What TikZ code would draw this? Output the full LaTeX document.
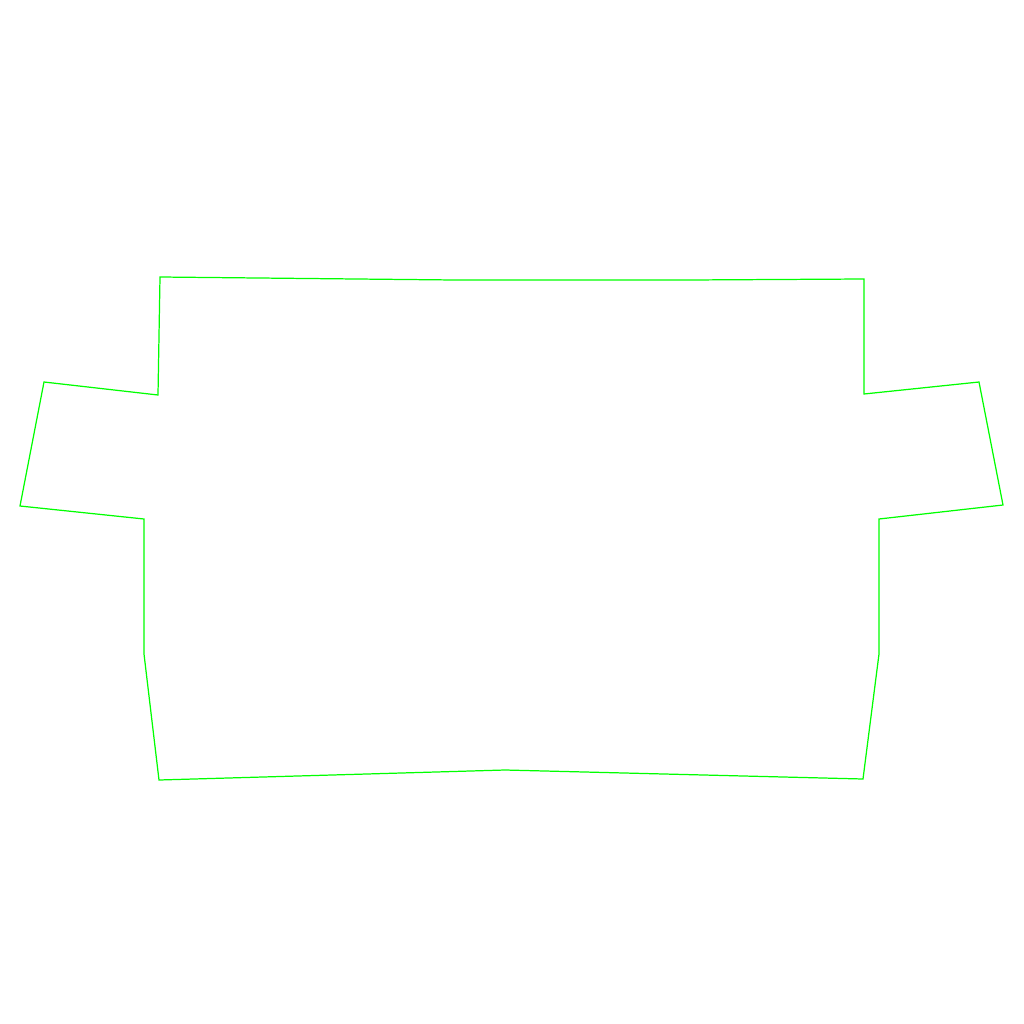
\documentclass[tikz,border=0pt]{standalone}
\usepackage{tikz}
\definecolor{outlinegreen}{RGB}{0,255,0}

\begin{document}
\begin{tikzpicture}[
  x=0.01cm, y=-0.01cm,
  outline/.style={draw=outlinegreen, line width=0.35pt, line join=miter}
]
  \useasboundingbox (0,0) rectangle (1024,1024);
  % corners of the outline, in pixels of the reference
  \coordinate (topleft) at (160,277);
  \coordinate (topmidl) at (455,280);
  \coordinate (topmidr) at (688,280);
  \coordinate (topright) at (864,279);
  \coordinate (rearin1) at (864,394);
  \coordinate (rearout1) at (979,382);
  \coordinate (rearout2) at (1003,505);
  \coordinate (rearin2) at (879,519);
  \coordinate (rkink) at (879,654);
  \coordinate (botright) at (863,779);
  \coordinate (botmid) at (505,770);
  \coordinate (botleft) at (159,780);
  \coordinate (lkink) at (144,654);
  \coordinate (learin2) at (144,519);
  \coordinate (learout2) at (20,506);
  \coordinate (learout1) at (44,382);
  \coordinate (learin1) at (158,395);
  \draw[outline] (topleft) -- (topmidl) -- (topmidr) -- (topright)
    -- (rearin1) -- (rearout1) -- (rearout2) -- (rearin2)
    -- (rkink) -- (botright) -- (botmid) -- (botleft) -- (lkink)
    -- (learin2) -- (learout2) -- (learout1) -- (learin1) -- cycle;
\end{tikzpicture}
\end{document}
